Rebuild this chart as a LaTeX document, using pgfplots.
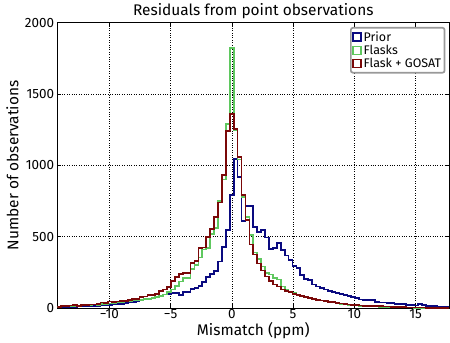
\documentclass[border=0pt]{standalone}
\usepackage{pgfplots}
\pgfplotsset{compat=1.18}
\usepackage{pgfplotstable}
\usepackage{fontspec}
\setmainfont{Fira Sans}
\definecolor{cprior}{RGB}{10,10,128}
\definecolor{cflask}{RGB}{95,200,95}
\definecolor{cgosat}{RGB}{122,8,8}
\pgfplotstableread{
prior flasks gosat
5 8 8
6 10 12
6 12 12
8 15 18
8 15 20
10 18 15
10 18 22
12 20 20
12 22 25
14 25 25
15 22 30
18 28 38
20 30 35
22 32 45
25 35 40
28 38 45
30 40 50
35 45 50
38 48 55
42 52 62
48 55 65
55 58 78
60 62 80
65 65 92
70 72 90
78 78 100
85 85 118
95 95 130
98 110 145
103 130 190
103 155 218
91 185 238
114 208 243
114 210 243
133 272 315
140 300 330
155 355 420
184 410 425
215 420 500
238 520 555
258 560 640
325 750 740
430 900 930
547 1290 1240
790 1825 1362
1045 1250 1255
920 1040 1060
612 780 790
715 640 615
715 510 445
568 390 375
535 345 313
547 290 262
495 245 220
416 235 190
423 210 165
458 200 150
407 150 130
369 125 120
336 115 110
294 105 100
280 95 92
230 85 85
205 78 78
195 72 70
165 64 62
150 58 57
140 52 52
130 48 48
120 42 44
112 38 40
105 32 35
98 28 32
90 25 28
84 22 25
75 20 22
68 18 20
60 16 18
55 14 16
56 12 15
56 12 14
40 10 14
38 8 12
38 8 11
33 6 10
33 5 8
28 5 6
26 4 5
26 4 5
21 3 4
21 3 4
18 2 3
26 2 3
20 2 3
14 2 2
14 1 2
12 1 2
9 1 2
9 1 1
8 1 1
8 1 1
}\hist

\begin{document}
\begin{tikzpicture}
\begin{axis}[
 name=ax,
 scale only axis, width=392bp, height=285.3bp,
 xmin=-14.25, xmax=17.75, ymin=0, ymax=2000,
 xtick={-10,-5,0,5,10,15}, xticklabels={−10,−5,0,5,10,15},
 ytick={0,500,1000,1500,2000},
 /pgf/number format/assume math mode=true,
 yticklabel style={/pgf/number format/1000 sep={}, xshift=1bp},
 xticklabel style={yshift=3bp},
 grid=major, major grid style={dotted, black, line width=0.7pt},
 tick align=inside, major tick length=4bp,
 tick style={black, line width=0.6pt},
 axis line style={line width=0.8pt},
 title={Residuals from point observations},
 title style={font=\fontsize{15.5}{17}\selectfont, yshift=-6bp},
 xlabel={Mismatch (ppm)}, ylabel={Number of observations},
 xlabel style={yshift=3bp},
 ylabel style={yshift=-1bp},
 ticklabel style={font=\fontsize{13.5}{15}\selectfont},
 label style={font=\fontsize{15.5}{17}\selectfont},
 legend style={at={(0.99,0.985)}, anchor=north east, font=\fontsize{12.5}{14}\selectfont, draw=gray!80, rounded corners=2pt, row sep=-1.5pt, inner sep=1.5pt},
 legend cell align=left,
 legend image code/.code={\draw[#1, sharp corners, fill=white, line width=1.3pt] (0bp,-4bp) rectangle (8bp,4bp);},
 const plot, no marks, line width=1.7pt,
]
\addplot[cprior] table[x expr={-14.25+0.32*\coordindex}, y=prior] {\hist};
\addplot[cflask] table[x expr={-14.25+0.32*\coordindex}, y=flasks] {\hist};
\addplot[cgosat] table[x expr={-14.25+0.32*\coordindex}, y=gosat] {\hist};
\legend{Prior,Flasks,Flask + GOSAT}
\end{axis}
\pgfresetboundingbox
\path[use as bounding box] ([xshift=-57.3bp,yshift=-35bp]ax.south west) rectangle ([xshift=0.7bp,yshift=22.7bp]ax.north east);
\end{tikzpicture}
\end{document}
